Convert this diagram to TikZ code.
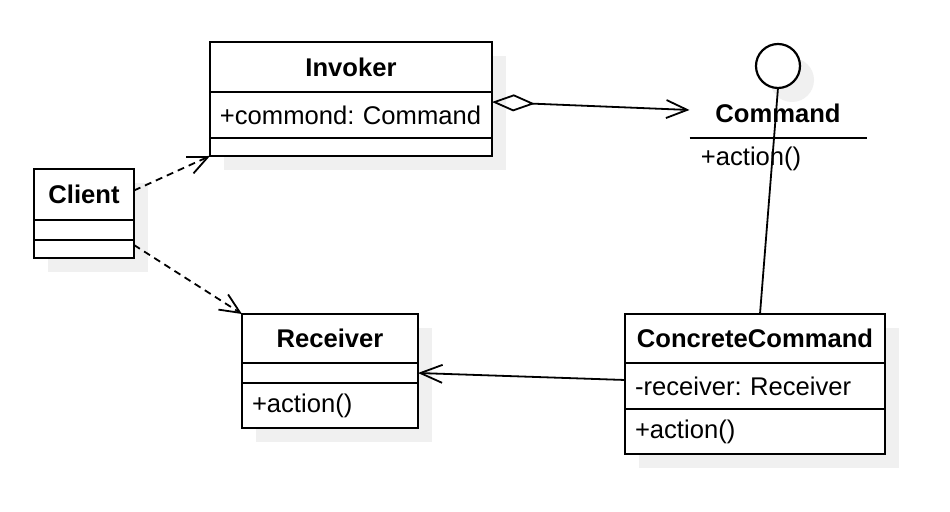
\documentclass[tikz,border=0pt]{standalone}
\usepackage{fontspec}
\setmainfont{Liberation Sans}
\usetikzlibrary{arrows.meta, positioning, shadows}
\newcommand{\umlfont}{\fontsize{12.8}{15}\selectfont\frenchspacing}

\begin{document}
\begin{tikzpicture}[
    x=1pt, y=-1pt,
    shade/.style={drop shadow={shadow xshift=7pt, shadow yshift=-7pt,
                  fill=black!6, opacity=1}},
    classhead/.style={rectangle, draw=black, line width=1.1pt, fill=white,
                      font=\umlfont\bfseries, inner sep=0pt, outer sep=0pt,
                      minimum width=#1, shade},
    classpart/.style={rectangle, draw=black, line width=1.1pt, fill=white,
                      font=\umlfont, inner xsep=5pt, inner ysep=0pt, outer sep=0pt,
                      text width=#1, align=left, shade},
    dep/.style={-{Straight Barb[length=10pt, width=9pt]}, line width=0.9pt,
                dash pattern=on 3.5pt off 2.5pt},
    assoc/.style={-{Straight Barb[length=11pt, width=9pt]}, line width=0.9pt},
    agg/.style={{Diamond[open, length=21.5pt, width=8.5pt]}-{Straight Barb[length=10.5pt, width=9pt]},
                line width=0.9pt},
]
\path[use as bounding box, fill=white] (0,0) rectangle (475,256);

%% Invoker
\node[classhead=141pt, minimum height=25pt, anchor=north west] (invtitle) at (105,21) {Invoker};
\node[classpart=131pt, minimum height=23pt, below=0pt of invtitle] (invattr) {+commond: Command};
\node[classpart=131pt, minimum height=9pt, below=0pt of invattr]   (invmeth) {};

%% Client
\node[classhead=50pt, minimum height=25.5pt, anchor=north west] (cltitle) at (17,84.5) {Client};
\node[classpart=40pt, minimum height=10pt, below=0pt of cltitle] (clattr) {};
\node[classpart=40pt, minimum height=9pt, below=0pt of clattr]   (clmeth) {};

%% Receiver
\node[classhead=88pt, minimum height=24.5pt, anchor=north west] (rctitle) at (121,157) {Receiver};
\node[classpart=78pt, minimum height=10pt, below=0pt of rctitle]   (rcattr) {};
\node[classpart=78pt, minimum height=22.5pt, below=0pt of rcattr]  (rcmeth) {+action()};

%% ConcreteCommand
\node[classhead=130pt, minimum height=24.5pt, anchor=north west] (cctitle) at (312.5,157) {ConcreteCommand};
\node[classpart=120pt, minimum height=23pt, below=0pt of cctitle]   (ccattr) {-receiver: Receiver};
\node[classpart=120pt, minimum height=22.5pt, below=0pt of ccattr]  (ccmeth) {+action()};

%% Command interface (lollipop)
\node[circle, draw=black, line width=1.1pt, fill=white, minimum size=22pt,
      inner sep=0pt, outer sep=0pt, shade] (lolly) at (389,33) {};
\node[font=\umlfont\bfseries, minimum width=88.5pt, minimum height=25pt,
      inner sep=0pt, outer sep=0pt] (cmd) at (389,56.5) {Command};
\node[font=\umlfont, anchor=north west, inner xsep=5.5pt, inner ysep=0pt,
      minimum height=20pt] (cmdmeth) at (cmd.south west) {+action()};
\draw[line width=0.9pt] (cmd.south west) -- (cmd.south east);

%% Connectors
\draw[dep]   ([yshift=2pt]cltitle.east) -- (invmeth.south west);
\draw[dep]   ([yshift=2pt]clmeth.east)  -- (rctitle.north west);
\draw[agg]   ([yshift=6.5pt]invattr.east) -- ([yshift=1.5pt]cmd.west);
\draw[assoc] ([yshift=3pt]ccattr.west)  -- (rcattr.east);
\draw[line width=0.9pt] (lolly.south) -- ([xshift=2.5pt]cctitle.north);
\end{tikzpicture}
\end{document}
